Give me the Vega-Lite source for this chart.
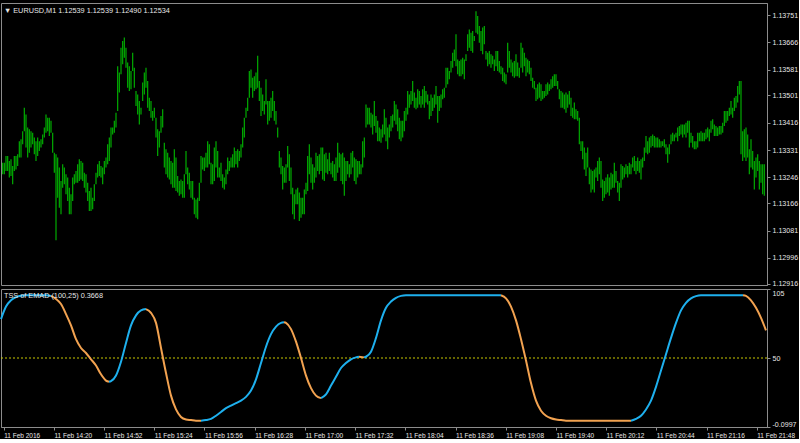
{
"$schema":"https://vega.github.io/schema/vega-lite/v6.json",
"background":"#000000",
"padding":{"left":-4,"top":2,"right":0,"bottom":0},
"spacing":4,
"bounds":"flush",
"config":{
 "view":{"stroke":"#8c8c8c","strokeWidth":1},
 "axis":{"domainColor":"#8c8c8c","tickColor":"#8c8c8c","labelColor":"#e6e6e6","labelFont":"Liberation Sans","labelFontSize":7.1,"grid":false,"title":null,"tickSize":3,"labelOverlap":false},
 "title":{"font":"Liberation Sans","fontSize":7.3,"fontWeight":"normal","color":"#e6e6e6","anchor":"start","orient":"top","frame":"group","offset":-11,"dx":3}
},
"vconcat":[
{
 "width":766,"height":282,
 "title":{"text":"▼ EURUSD,M1  1.12539 1.12539 1.12490 1.12534"},
 "data":{"values":[
{"i":1,"h":1.13292,"l":1.13256},{"i":2,"h":1.13292,"l":1.13256},{"i":3,"h":1.13313,"l":1.13266},{"i":4,"h":1.13313,"l":1.13266},{"i":5,"h":1.13297,"l":1.13246},{"i":6,"h":1.13303,"l":1.13251},{"i":7,"h":1.13282,"l":1.13225},{"i":8,"h":1.13313,"l":1.13266},{"i":9,"h":1.13313,"l":1.13271},{"i":10,"h":1.13318,"l":1.13282},
{"i":11,"h":1.13359,"l":1.13308},{"i":12,"h":1.13365,"l":1.13308},{"i":13,"h":1.13390,"l":1.13349},{"i":14,"h":1.13463,"l":1.13390},{"i":15,"h":1.13442,"l":1.13339},{"i":16,"h":1.13401,"l":1.13308},{"i":17,"h":1.13396,"l":1.13323},{"i":18,"h":1.13390,"l":1.13339},{"i":19,"h":1.13385,"l":1.13349},{"i":20,"h":1.13370,"l":1.13318},
{"i":21,"h":1.13359,"l":1.13297},{"i":22,"h":1.13370,"l":1.13313},{"i":23,"h":1.13359,"l":1.13328},{"i":24,"h":1.13365,"l":1.13339},{"i":25,"h":1.13380,"l":1.13349},{"i":26,"h":1.13401,"l":1.13370},{"i":27,"h":1.13442,"l":1.13385},{"i":28,"h":1.13432,"l":1.13390},{"i":29,"h":1.13432,"l":1.13375},{"i":30,"h":1.13422,"l":1.13385},
{"i":31,"h":1.13385,"l":1.13323},{"i":32,"h":1.13323,"l":1.13261},{"i":33,"h":1.13318,"l":1.13051},{"i":34,"h":1.13308,"l":1.13183},{"i":35,"h":1.13277,"l":1.13152},{"i":36,"h":1.13235,"l":1.13132},{"i":37,"h":1.13287,"l":1.13214},{"i":38,"h":1.13277,"l":1.13225},{"i":39,"h":1.13256,"l":1.13194},{"i":40,"h":1.13246,"l":1.13173},
{"i":41,"h":1.13214,"l":1.13132},{"i":42,"h":1.13194,"l":1.13132},{"i":43,"h":1.13246,"l":1.13173},{"i":44,"h":1.13256,"l":1.13225},{"i":45,"h":1.13266,"l":1.13230},{"i":46,"h":1.13287,"l":1.13230},{"i":47,"h":1.13303,"l":1.13235},{"i":48,"h":1.13297,"l":1.13240},{"i":49,"h":1.13292,"l":1.13235},{"i":50,"h":1.13261,"l":1.13214},
{"i":51,"h":1.13256,"l":1.13199},{"i":52,"h":1.13230,"l":1.13173},{"i":53,"h":1.13204,"l":1.13142},{"i":54,"h":1.13214,"l":1.13142},{"i":55,"h":1.13183,"l":1.13147},{"i":56,"h":1.13225,"l":1.13173},{"i":57,"h":1.13261,"l":1.13225},{"i":58,"h":1.13287,"l":1.13246},{"i":59,"h":1.13297,"l":1.13251},{"i":60,"h":1.13282,"l":1.13246},
{"i":61,"h":1.13277,"l":1.13225},{"i":62,"h":1.13297,"l":1.13256},{"i":63,"h":1.13308,"l":1.13277},{"i":64,"h":1.13349,"l":1.13287},{"i":65,"h":1.13370,"l":1.13297},{"i":66,"h":1.13401,"l":1.13339},{"i":67,"h":1.13401,"l":1.13380},{"i":68,"h":1.13422,"l":1.13385},{"i":69,"h":1.13447,"l":1.13401},{"i":70,"h":1.13592,"l":1.13453},
{"i":71,"h":1.13572,"l":1.13510},{"i":72,"h":1.13649,"l":1.13567},{"i":73,"h":1.13670,"l":1.13598},{"i":74,"h":1.13681,"l":1.13618},{"i":75,"h":1.13649,"l":1.13587},{"i":76,"h":1.13603,"l":1.13525},{"i":77,"h":1.13592,"l":1.13515},{"i":78,"h":1.13577,"l":1.13520},{"i":79,"h":1.13634,"l":1.13577},{"i":80,"h":1.13587,"l":1.13525},
{"i":81,"h":1.13515,"l":1.13468},{"i":82,"h":1.13504,"l":1.13442},{"i":83,"h":1.13484,"l":1.13411},{"i":84,"h":1.13463,"l":1.13442},{"i":85,"h":1.13541,"l":1.13484},{"i":86,"h":1.13572,"l":1.13504},{"i":87,"h":1.13587,"l":1.13525},{"i":88,"h":1.13546,"l":1.13463},{"i":89,"h":1.13494,"l":1.13453},{"i":90,"h":1.13484,"l":1.13432},
{"i":91,"h":1.13453,"l":1.13422},{"i":92,"h":1.13463,"l":1.13432},{"i":93,"h":1.13432,"l":1.13370},{"i":94,"h":1.13396,"l":1.13313},{"i":95,"h":1.13390,"l":1.13339},{"i":96,"h":1.13437,"l":1.13385},{"i":97,"h":1.13458,"l":1.13401},{"i":98,"h":1.13354,"l":1.13277},{"i":99,"h":1.13334,"l":1.13256},{"i":100,"h":1.13323,"l":1.13246},
{"i":101,"h":1.13308,"l":1.13240},{"i":102,"h":1.13297,"l":1.13225},{"i":103,"h":1.13292,"l":1.13214},{"i":104,"h":1.13334,"l":1.13214},{"i":105,"h":1.13308,"l":1.13204},{"i":106,"h":1.13251,"l":1.13199},{"i":107,"h":1.13235,"l":1.13189},{"i":108,"h":1.13240,"l":1.13194},{"i":109,"h":1.13235,"l":1.13183},{"i":110,"h":1.13256,"l":1.13183},
{"i":111,"h":1.13328,"l":1.13256},{"i":112,"h":1.13277,"l":1.13225},{"i":113,"h":1.13261,"l":1.13209},{"i":114,"h":1.13235,"l":1.13183},{"i":115,"h":1.13235,"l":1.13178},{"i":116,"h":1.13183,"l":1.13132},{"i":117,"h":1.13178,"l":1.13121},{"i":118,"h":1.13183,"l":1.13116},{"i":119,"h":1.13230,"l":1.13173},{"i":120,"h":1.13313,"l":1.13230},
{"i":121,"h":1.13308,"l":1.13271},{"i":122,"h":1.13308,"l":1.13266},{"i":123,"h":1.13323,"l":1.13277},{"i":124,"h":1.13359,"l":1.13277},{"i":125,"h":1.13349,"l":1.13287},{"i":126,"h":1.13292,"l":1.13225},{"i":127,"h":1.13287,"l":1.13225},{"i":128,"h":1.13339,"l":1.13235},{"i":129,"h":1.13359,"l":1.13277},{"i":130,"h":1.13328,"l":1.13246},
{"i":131,"h":1.13277,"l":1.13246},{"i":132,"h":1.13292,"l":1.13235},{"i":133,"h":1.13256,"l":1.13214},{"i":134,"h":1.13246,"l":1.13209},{"i":135,"h":1.13271,"l":1.13225},{"i":136,"h":1.13308,"l":1.13256},{"i":137,"h":1.13297,"l":1.13266},{"i":138,"h":1.13308,"l":1.13277},{"i":139,"h":1.13318,"l":1.13277},{"i":140,"h":1.13339,"l":1.13277},
{"i":141,"h":1.13328,"l":1.13287},{"i":142,"h":1.13334,"l":1.13277},{"i":143,"h":1.13328,"l":1.13297},{"i":144,"h":1.13349,"l":1.13308},{"i":145,"h":1.13401,"l":1.13339},{"i":146,"h":1.13432,"l":1.13370},{"i":147,"h":1.13463,"l":1.13432},{"i":148,"h":1.13494,"l":1.13453},{"i":149,"h":1.13577,"l":1.13494},{"i":150,"h":1.13582,"l":1.13525},
{"i":151,"h":1.13556,"l":1.13494},{"i":152,"h":1.13561,"l":1.13515},{"i":153,"h":1.13572,"l":1.13520},{"i":154,"h":1.13624,"l":1.13525},{"i":155,"h":1.13546,"l":1.13484},{"i":156,"h":1.13525,"l":1.13437},{"i":157,"h":1.13504,"l":1.13453},{"i":158,"h":1.13484,"l":1.13442},{"i":159,"h":1.13551,"l":1.13473},{"i":160,"h":1.13484,"l":1.13411},
{"i":161,"h":1.13484,"l":1.13422},{"i":162,"h":1.13494,"l":1.13432},{"i":163,"h":1.13515,"l":1.13453},{"i":164,"h":1.13484,"l":1.13422},{"i":165,"h":1.13453,"l":1.13411},{"i":166,"h":1.13401,"l":1.13370},{"i":167,"h":1.13328,"l":1.13277},{"i":168,"h":1.13308,"l":1.13256},{"i":169,"h":1.13282,"l":1.13209},{"i":170,"h":1.13277,"l":1.13230},
{"i":171,"h":1.13287,"l":1.13230},{"i":172,"h":1.13344,"l":1.13277},{"i":173,"h":1.13318,"l":1.13235},{"i":174,"h":1.13277,"l":1.13194},{"i":175,"h":1.13214,"l":1.13132},{"i":176,"h":1.13194,"l":1.13116},{"i":177,"h":1.13209,"l":1.13163},{"i":178,"h":1.13214,"l":1.13163},{"i":179,"h":1.13199,"l":1.13111},{"i":180,"h":1.13183,"l":1.13121},
{"i":181,"h":1.13183,"l":1.13132},{"i":182,"h":1.13209,"l":1.13132},{"i":183,"h":1.13230,"l":1.13194},{"i":184,"h":1.13313,"l":1.13204},{"i":185,"h":1.13349,"l":1.13256},{"i":186,"h":1.13308,"l":1.13230},{"i":187,"h":1.13287,"l":1.13209},{"i":188,"h":1.13277,"l":1.13230},{"i":189,"h":1.13323,"l":1.13246},{"i":190,"h":1.13313,"l":1.13266},
{"i":191,"h":1.13318,"l":1.13256},{"i":192,"h":1.13339,"l":1.13266},{"i":193,"h":1.13339,"l":1.13240},{"i":194,"h":1.13318,"l":1.13235},{"i":195,"h":1.13323,"l":1.13261},{"i":196,"h":1.13303,"l":1.13256},{"i":197,"h":1.13323,"l":1.13266},{"i":198,"h":1.13292,"l":1.13256},{"i":199,"h":1.13297,"l":1.13246},{"i":200,"h":1.13287,"l":1.13235},
{"i":201,"h":1.13308,"l":1.13235},{"i":202,"h":1.13354,"l":1.13261},{"i":203,"h":1.13323,"l":1.13277},{"i":204,"h":1.13318,"l":1.13235},{"i":205,"h":1.13323,"l":1.13225},{"i":206,"h":1.13308,"l":1.13189},{"i":207,"h":1.13297,"l":1.13235},{"i":208,"h":1.13297,"l":1.13256},{"i":209,"h":1.13287,"l":1.13246},{"i":210,"h":1.13323,"l":1.13256},
{"i":211,"h":1.13328,"l":1.13277},{"i":212,"h":1.13308,"l":1.13235},{"i":213,"h":1.13303,"l":1.13225},{"i":214,"h":1.13297,"l":1.13246},{"i":215,"h":1.13297,"l":1.13256},{"i":216,"h":1.13287,"l":1.13256},{"i":217,"h":1.13359,"l":1.13277},{"i":218,"h":1.13370,"l":1.13308},{"i":219,"h":1.13473,"l":1.13401},{"i":220,"h":1.13463,"l":1.13411},
{"i":221,"h":1.13463,"l":1.13411},{"i":222,"h":1.13447,"l":1.13401},{"i":223,"h":1.13442,"l":1.13380},{"i":224,"h":1.13484,"l":1.13406},{"i":225,"h":1.13437,"l":1.13385},{"i":226,"h":1.13422,"l":1.13359},{"i":227,"h":1.13401,"l":1.13359},{"i":228,"h":1.13396,"l":1.13354},{"i":229,"h":1.13411,"l":1.13370},{"i":230,"h":1.13458,"l":1.13380},
{"i":231,"h":1.13432,"l":1.13359},{"i":232,"h":1.13401,"l":1.13334},{"i":233,"h":1.13411,"l":1.13370},{"i":234,"h":1.13437,"l":1.13390},{"i":235,"h":1.13442,"l":1.13401},{"i":236,"h":1.13484,"l":1.13422},{"i":237,"h":1.13473,"l":1.13411},{"i":238,"h":1.13458,"l":1.13390},{"i":239,"h":1.13432,"l":1.13365},{"i":240,"h":1.13422,"l":1.13359},
{"i":241,"h":1.13422,"l":1.13370},{"i":242,"h":1.13453,"l":1.13390},{"i":243,"h":1.13463,"l":1.13422},{"i":244,"h":1.13515,"l":1.13442},{"i":245,"h":1.13504,"l":1.13463},{"i":246,"h":1.13515,"l":1.13473},{"i":247,"h":1.13546,"l":1.13484},{"i":248,"h":1.13510,"l":1.13463},{"i":249,"h":1.13494,"l":1.13458},{"i":250,"h":1.13520,"l":1.13463},
{"i":251,"h":1.13515,"l":1.13473},{"i":252,"h":1.13499,"l":1.13463},{"i":253,"h":1.13520,"l":1.13473},{"i":254,"h":1.13530,"l":1.13463},{"i":255,"h":1.13515,"l":1.13479},{"i":256,"h":1.13504,"l":1.13473},{"i":257,"h":1.13484,"l":1.13427},{"i":258,"h":1.13504,"l":1.13437},{"i":259,"h":1.13494,"l":1.13453},{"i":260,"h":1.13504,"l":1.13463},
{"i":261,"h":1.13530,"l":1.13473},{"i":262,"h":1.13499,"l":1.13416},{"i":263,"h":1.13499,"l":1.13453},{"i":264,"h":1.13504,"l":1.13463},{"i":265,"h":1.13520,"l":1.13489},{"i":266,"h":1.13525,"l":1.13494},{"i":267,"h":1.13587,"l":1.13525},{"i":268,"h":1.13587,"l":1.13536},{"i":269,"h":1.13577,"l":1.13551},{"i":270,"h":1.13608,"l":1.13572},
{"i":271,"h":1.13634,"l":1.13587},{"i":272,"h":1.13644,"l":1.13608},{"i":273,"h":1.13691,"l":1.13592},{"i":274,"h":1.13613,"l":1.13567},{"i":275,"h":1.13608,"l":1.13561},{"i":276,"h":1.13613,"l":1.13561},{"i":277,"h":1.13618,"l":1.13567},{"i":278,"h":1.13613,"l":1.13551},{"i":279,"h":1.13629,"l":1.13608},{"i":280,"h":1.13691,"l":1.13639},
{"i":281,"h":1.13706,"l":1.13649},{"i":282,"h":1.13696,"l":1.13639},{"i":283,"h":1.13701,"l":1.13634},{"i":284,"h":1.13686,"l":1.13670},{"i":285,"h":1.13763,"l":1.13696},{"i":286,"h":1.13748,"l":1.13691},{"i":287,"h":1.13717,"l":1.13665},{"i":288,"h":1.13701,"l":1.13639},{"i":289,"h":1.13712,"l":1.13629},{"i":290,"h":1.13717,"l":1.13660},
{"i":291,"h":1.13639,"l":1.13613},{"i":292,"h":1.13634,"l":1.13592},{"i":293,"h":1.13639,"l":1.13598},{"i":294,"h":1.13629,"l":1.13587},{"i":295,"h":1.13624,"l":1.13598},{"i":296,"h":1.13613,"l":1.13577},{"i":297,"h":1.13639,"l":1.13592},{"i":298,"h":1.13639,"l":1.13577},{"i":299,"h":1.13608,"l":1.13572},{"i":300,"h":1.13592,"l":1.13567},
{"i":301,"h":1.13587,"l":1.13546},{"i":302,"h":1.13572,"l":1.13541},{"i":303,"h":1.13567,"l":1.13536},{"i":304,"h":1.13665,"l":1.13572},{"i":305,"h":1.13639,"l":1.13587},{"i":306,"h":1.13613,"l":1.13572},{"i":307,"h":1.13603,"l":1.13561},{"i":308,"h":1.13608,"l":1.13556},{"i":309,"h":1.13629,"l":1.13561},{"i":310,"h":1.13603,"l":1.13561},
{"i":311,"h":1.13587,"l":1.13556},{"i":312,"h":1.13665,"l":1.13587},{"i":313,"h":1.13649,"l":1.13572},{"i":314,"h":1.13634,"l":1.13592},{"i":315,"h":1.13618,"l":1.13561},{"i":316,"h":1.13613,"l":1.13572},{"i":317,"h":1.13608,"l":1.13567},{"i":318,"h":1.13587,"l":1.13546},{"i":319,"h":1.13556,"l":1.13525},{"i":320,"h":1.13546,"l":1.13520},
{"i":321,"h":1.13525,"l":1.13484},{"i":322,"h":1.13536,"l":1.13489},{"i":323,"h":1.13541,"l":1.13494},{"i":324,"h":1.13536,"l":1.13484},{"i":325,"h":1.13515,"l":1.13489},{"i":326,"h":1.13515,"l":1.13494},{"i":327,"h":1.13536,"l":1.13499},{"i":328,"h":1.13541,"l":1.13504},{"i":329,"h":1.13536,"l":1.13515},{"i":330,"h":1.13551,"l":1.13520},
{"i":331,"h":1.13561,"l":1.13525},{"i":332,"h":1.13567,"l":1.13530},{"i":333,"h":1.13567,"l":1.13530},{"i":334,"h":1.13546,"l":1.13520},{"i":335,"h":1.13520,"l":1.13489},{"i":336,"h":1.13515,"l":1.13463},{"i":337,"h":1.13510,"l":1.13463},{"i":338,"h":1.13504,"l":1.13458},{"i":339,"h":1.13510,"l":1.13447},{"i":340,"h":1.13504,"l":1.13463},
{"i":341,"h":1.13515,"l":1.13473},{"i":342,"h":1.13494,"l":1.13437},{"i":343,"h":1.13463,"l":1.13432},{"i":344,"h":1.13479,"l":1.13427},{"i":345,"h":1.13458,"l":1.13427},{"i":346,"h":1.13453,"l":1.13422},{"i":347,"h":1.13432,"l":1.13349},{"i":348,"h":1.13359,"l":1.13328},{"i":349,"h":1.13359,"l":1.13303},{"i":350,"h":1.13339,"l":1.13271},
{"i":351,"h":1.13323,"l":1.13251},{"i":352,"h":1.13339,"l":1.13277},{"i":353,"h":1.13277,"l":1.13225},{"i":354,"h":1.13271,"l":1.13199},{"i":355,"h":1.13266,"l":1.13209},{"i":356,"h":1.13271,"l":1.13199},{"i":357,"h":1.13277,"l":1.13246},{"i":358,"h":1.13297,"l":1.13235},{"i":359,"h":1.13308,"l":1.13256},{"i":360,"h":1.13297,"l":1.13214},
{"i":361,"h":1.13240,"l":1.13173},{"i":362,"h":1.13235,"l":1.13183},{"i":363,"h":1.13246,"l":1.13194},{"i":364,"h":1.13256,"l":1.13199},{"i":365,"h":1.13246,"l":1.13189},{"i":366,"h":1.13261,"l":1.13209},{"i":367,"h":1.13256,"l":1.13214},{"i":368,"h":1.13292,"l":1.13214},{"i":369,"h":1.13266,"l":1.13230},{"i":370,"h":1.13235,"l":1.13199},
{"i":371,"h":1.13230,"l":1.13173},{"i":372,"h":1.13287,"l":1.13214},{"i":373,"h":1.13282,"l":1.13240},{"i":374,"h":1.13277,"l":1.13246},{"i":375,"h":1.13287,"l":1.13256},{"i":376,"h":1.13282,"l":1.13246},{"i":377,"h":1.13292,"l":1.13256},{"i":378,"h":1.13287,"l":1.13256},{"i":379,"h":1.13308,"l":1.13277},{"i":380,"h":1.13313,"l":1.13266},
{"i":381,"h":1.13297,"l":1.13256},{"i":382,"h":1.13308,"l":1.13266},{"i":383,"h":1.13297,"l":1.13261},{"i":384,"h":1.13303,"l":1.13240},{"i":385,"h":1.13308,"l":1.13277},{"i":386,"h":1.13339,"l":1.13297},{"i":387,"h":1.13375,"l":1.13323},{"i":388,"h":1.13359,"l":1.13318},{"i":389,"h":1.13370,"l":1.13323},{"i":390,"h":1.13375,"l":1.13339},
{"i":391,"h":1.13380,"l":1.13344},{"i":392,"h":1.13375,"l":1.13339},{"i":393,"h":1.13370,"l":1.13339},{"i":394,"h":1.13370,"l":1.13339},{"i":395,"h":1.13365,"l":1.13339},{"i":396,"h":1.13359,"l":1.13339},{"i":397,"h":1.13359,"l":1.13344},{"i":398,"h":1.13365,"l":1.13339},{"i":399,"h":1.13349,"l":1.13318},{"i":400,"h":1.13339,"l":1.13292},
{"i":401,"h":1.13349,"l":1.13318},{"i":402,"h":1.13380,"l":1.13349},{"i":403,"h":1.13385,"l":1.13359},{"i":404,"h":1.13380,"l":1.13359},{"i":405,"h":1.13385,"l":1.13370},{"i":406,"h":1.13401,"l":1.13359},{"i":407,"h":1.13406,"l":1.13375},{"i":408,"h":1.13411,"l":1.13380},{"i":409,"h":1.13411,"l":1.13370},{"i":410,"h":1.13411,"l":1.13380},
{"i":411,"h":1.13416,"l":1.13370},{"i":412,"h":1.13422,"l":1.13385},{"i":413,"h":1.13422,"l":1.13339},{"i":414,"h":1.13385,"l":1.13354},{"i":415,"h":1.13375,"l":1.13339},{"i":416,"h":1.13359,"l":1.13334},{"i":417,"h":1.13359,"l":1.13334},{"i":418,"h":1.13385,"l":1.13339},{"i":419,"h":1.13385,"l":1.13359},{"i":420,"h":1.13390,"l":1.13359},
{"i":421,"h":1.13385,"l":1.13359},{"i":422,"h":1.13385,"l":1.13359},{"i":423,"h":1.13396,"l":1.13365},{"i":424,"h":1.13401,"l":1.13370},{"i":425,"h":1.13396,"l":1.13359},{"i":426,"h":1.13422,"l":1.13385},{"i":427,"h":1.13427,"l":1.13396},{"i":428,"h":1.13411,"l":1.13375},{"i":429,"h":1.13406,"l":1.13375},{"i":430,"h":1.13401,"l":1.13375},
{"i":431,"h":1.13406,"l":1.13380},{"i":432,"h":1.13406,"l":1.13380},{"i":433,"h":1.13416,"l":1.13385},{"i":434,"h":1.13453,"l":1.13406},{"i":435,"h":1.13453,"l":1.13416},{"i":436,"h":1.13453,"l":1.13422},{"i":437,"h":1.13463,"l":1.13437},{"i":438,"h":1.13484,"l":1.13442},{"i":439,"h":1.13463,"l":1.13432},{"i":440,"h":1.13494,"l":1.13453},
{"i":441,"h":1.13499,"l":1.13463},{"i":442,"h":1.13530,"l":1.13479},{"i":443,"h":1.13546,"l":1.13504},{"i":444,"h":1.13546,"l":1.13318},{"i":445,"h":1.13390,"l":1.13297},{"i":446,"h":1.13396,"l":1.13308},{"i":447,"h":1.13401,"l":1.13297},{"i":448,"h":1.13380,"l":1.13308},{"i":449,"h":1.13334,"l":1.13256},{"i":450,"h":1.13365,"l":1.13277},
{"i":451,"h":1.13328,"l":1.13271},{"i":452,"h":1.13297,"l":1.13209},{"i":453,"h":1.13308,"l":1.13246},{"i":454,"h":1.13318,"l":1.13266},{"i":455,"h":1.13297,"l":1.13209},{"i":456,"h":1.13287,"l":1.13230},{"i":457,"h":1.13287,"l":1.13194},{"i":458,"h":1.13287,"l":1.13189}
 ]},
 "mark":{"type":"rule","color":"#00ac00","strokeWidth":1.2},
 "encoding":{
  "x":{"field":"i","type":"quantitative","scale":{"domain":[0,459.6],"nice":false,"zero":false},"axis":null},
  "y":{"field":"h","type":"quantitative","scale":{"domain":[1.129119,1.137883],"nice":false,"zero":false},
       "axis":{"orient":"right","values":[1.12916,1.12996,1.13081,1.13166,1.13246,1.13331,1.13416,1.13501,1.13581,1.13666,1.13751],"format":".5f","labelPadding":2}},
  "y2":{"field":"l"}
 }
},
{
 "width":766,"height":138,
 "title":{"text":"TSS of EMAD (100,25) 0.3668"},
 "encoding":{
  "y":{"field":"v","type":"quantitative","scale":{"domain":[-5,105],"nice":false,"zero":false},
       "axis":{"orient":"right","values":[-5,50,105],"labelExpr":"datum.value < 0 ? '-0.0997' : datum.value > 100 ? '105' : '50'","labelFlush":true,"labelPadding":2}}
 },
 "layer":[
  {"data":{"values":[{"v":50}]},"mark":{"type":"rule","color":"#c8c800","strokeDash":[2,2],"strokeWidth":1},"encoding":{}},
  {"data":{"values":[
{"i":0,"v":81,"s":1,"dir":"up"},{"i":3,"v":91,"s":1,"dir":"up"},{"i":6,"v":96,"s":1,"dir":"up"},{"i":9,"v":98.5,"s":1,"dir":"up"},{"i":12,"v":99.7,"s":1,"dir":"up"},{"i":15,"v":100,"s":1,"dir":"up"},{"i":21,"v":100,"s":1,"dir":"up"},{"i":27,"v":100,"s":1,"dir":"up"},{"i":30,"v":99.5,"s":1,"dir":"up"},
{"i":30,"v":99.5,"s":2,"dir":"down"},{"i":33,"v":97,"s":2,"dir":"down"},{"i":36,"v":93,"s":2,"dir":"down"},{"i":39,"v":85,"s":2,"dir":"down"},{"i":42,"v":76,"s":2,"dir":"down"},{"i":45,"v":65,"s":2,"dir":"down"},{"i":48,"v":58,"s":2,"dir":"down"},{"i":51,"v":54,"s":2,"dir":"down"},{"i":54,"v":49,"s":2,"dir":"down"},{"i":57,"v":44,"s":2,"dir":"down"},{"i":60,"v":37,"s":2,"dir":"down"},{"i":63,"v":32,"s":2,"dir":"down"},{"i":64.8,"v":31,"s":2,"dir":"down"},
{"i":64.8,"v":31,"s":3,"dir":"up"},{"i":66,"v":31.5,"s":3,"dir":"up"},{"i":69,"v":36,"s":3,"dir":"up"},{"i":72,"v":47,"s":3,"dir":"up"},{"i":75,"v":62,"s":3,"dir":"up"},{"i":78,"v":76,"s":3,"dir":"up"},{"i":81,"v":84,"s":3,"dir":"up"},{"i":84,"v":88,"s":3,"dir":"up"},{"i":87,"v":89,"s":3,"dir":"up"},
{"i":87,"v":89,"s":4,"dir":"down"},{"i":90,"v":86,"s":4,"dir":"down"},{"i":93,"v":78,"s":4,"dir":"down"},{"i":96,"v":58,"s":4,"dir":"down"},{"i":99,"v":38,"s":4,"dir":"down"},{"i":102,"v":20,"s":4,"dir":"down"},{"i":105,"v":9,"s":4,"dir":"down"},{"i":108,"v":3,"s":4,"dir":"down"},{"i":111,"v":1,"s":4,"dir":"down"},{"i":114,"v":0.5,"s":4,"dir":"down"},{"i":117,"v":0,"s":4,"dir":"down"},{"i":120,"v":0,"s":4,"dir":"down"},
{"i":120,"v":0,"s":5,"dir":"up"},{"i":123,"v":0.5,"s":5,"dir":"up"},{"i":126,"v":1.5,"s":5,"dir":"up"},{"i":129,"v":4,"s":5,"dir":"up"},{"i":132,"v":7,"s":5,"dir":"up"},{"i":135,"v":10,"s":5,"dir":"up"},{"i":138,"v":12,"s":5,"dir":"up"},{"i":141,"v":14,"s":5,"dir":"up"},{"i":144,"v":16,"s":5,"dir":"up"},{"i":147,"v":19,"s":5,"dir":"up"},{"i":150,"v":24,"s":5,"dir":"up"},{"i":153,"v":33,"s":5,"dir":"up"},{"i":156,"v":46,"s":5,"dir":"up"},{"i":159,"v":59,"s":5,"dir":"up"},{"i":162,"v":69,"s":5,"dir":"up"},{"i":165,"v":75,"s":5,"dir":"up"},{"i":168,"v":78,"s":5,"dir":"up"},{"i":169.8,"v":78.5,"s":5,"dir":"up"},
{"i":169.8,"v":78.5,"s":6,"dir":"down"},{"i":171,"v":78,"s":6,"dir":"down"},{"i":174,"v":73,"s":6,"dir":"down"},{"i":177,"v":63,"s":6,"dir":"down"},{"i":180,"v":50,"s":6,"dir":"down"},{"i":183,"v":36,"s":6,"dir":"down"},{"i":186,"v":26,"s":6,"dir":"down"},{"i":189,"v":20,"s":6,"dir":"down"},{"i":192,"v":18,"s":6,"dir":"down"},
{"i":192,"v":18,"s":7,"dir":"up"},{"i":195,"v":21,"s":7,"dir":"up"},{"i":198,"v":28,"s":7,"dir":"up"},{"i":201,"v":35,"s":7,"dir":"up"},{"i":204,"v":42,"s":7,"dir":"up"},{"i":207,"v":46,"s":7,"dir":"up"},{"i":210,"v":49,"s":7,"dir":"up"},{"i":213,"v":50.5,"s":7,"dir":"up"},{"i":214.8,"v":51,"s":7,"dir":"up"},
{"i":214.8,"v":51,"s":8,"dir":"down"},{"i":217.8,"v":50.5,"s":8,"dir":"down"},
{"i":217.8,"v":50.5,"s":9,"dir":"up"},{"i":219,"v":51,"s":9,"dir":"up"},{"i":222,"v":55,"s":9,"dir":"up"},{"i":225,"v":66,"s":9,"dir":"up"},{"i":228,"v":80,"s":9,"dir":"up"},{"i":231,"v":90,"s":9,"dir":"up"},{"i":234,"v":95,"s":9,"dir":"up"},{"i":237,"v":98,"s":9,"dir":"up"},{"i":240,"v":99.5,"s":9,"dir":"up"},{"i":243,"v":100,"s":9,"dir":"up"},{"i":270,"v":100,"s":9,"dir":"up"},{"i":300,"v":100,"s":9,"dir":"up"},
{"i":300,"v":100,"s":10,"dir":"down"},{"i":303,"v":97.5,"s":10,"dir":"down"},{"i":306,"v":91,"s":10,"dir":"down"},{"i":309,"v":80,"s":10,"dir":"down"},{"i":312,"v":65,"s":10,"dir":"down"},{"i":315,"v":48,"s":10,"dir":"down"},{"i":318,"v":30,"s":10,"dir":"down"},{"i":321,"v":16,"s":10,"dir":"down"},{"i":324,"v":8,"s":10,"dir":"down"},{"i":327,"v":4,"s":10,"dir":"down"},{"i":330,"v":2,"s":10,"dir":"down"},{"i":333,"v":1,"s":10,"dir":"down"},{"i":336,"v":0.5,"s":10,"dir":"down"},{"i":339,"v":0,"s":10,"dir":"down"},{"i":378,"v":0,"s":10,"dir":"down"},
{"i":378,"v":0,"s":11,"dir":"up"},{"i":381,"v":1.5,"s":11,"dir":"up"},{"i":384,"v":4,"s":11,"dir":"up"},{"i":387,"v":9,"s":11,"dir":"up"},{"i":390,"v":16,"s":11,"dir":"up"},{"i":393,"v":27,"s":11,"dir":"up"},{"i":396,"v":40,"s":11,"dir":"up"},{"i":399,"v":53,"s":11,"dir":"up"},{"i":402,"v":66,"s":11,"dir":"up"},{"i":405,"v":78,"s":11,"dir":"up"},{"i":408,"v":88,"s":11,"dir":"up"},{"i":411,"v":94,"s":11,"dir":"up"},{"i":414,"v":97.5,"s":11,"dir":"up"},{"i":417,"v":99.3,"s":11,"dir":"up"},{"i":420,"v":100,"s":11,"dir":"up"},{"i":445.2,"v":100,"s":11,"dir":"up"},
{"i":445.2,"v":100,"s":12,"dir":"down"},{"i":447,"v":99.5,"s":12,"dir":"down"},{"i":450,"v":96,"s":12,"dir":"down"},{"i":453,"v":90,"s":12,"dir":"down"},{"i":456,"v":82,"s":12,"dir":"down"},{"i":459,"v":72,"s":12,"dir":"down"}
  ]},
  "mark":{"type":"line","strokeWidth":2,"interpolate":"monotone"},
  "encoding":{
   "x":{"field":"i","type":"quantitative","scale":{"domain":[0,459.6],"nice":false,"zero":false},
        "axis":{"orient":"bottom","values":[1.62,31.74,61.86,91.98,122.1,152.22,182.34,212.46,242.58,272.7,302.82,332.94,363.06,393.18,423.3,453.42],
                "labelExpr":"['11 Feb 2016','11 Feb 14:20','11 Feb 14:52','11 Feb 15:24','11 Feb 15:56','11 Feb 16:28','11 Feb 17:00','11 Feb 17:32','11 Feb 18:04','11 Feb 18:36','11 Feb 19:08','11 Feb 19:40','11 Feb 20:12','11 Feb 20:44','11 Feb 21:16','11 Feb 21:48'][round((datum.value-1.62)/30.12)]",
                "labelAlign":"left","labelPadding":2,"labelFlush":false,"labelFontSize":6.5}},
   "color":{"field":"dir","type":"nominal","scale":{"domain":["up","down"],"range":["#1eb0ee","#f2a250"]},"legend":null},
   "detail":{"field":"s","type":"nominal"}
  }
  }
 ]
}
]
}
